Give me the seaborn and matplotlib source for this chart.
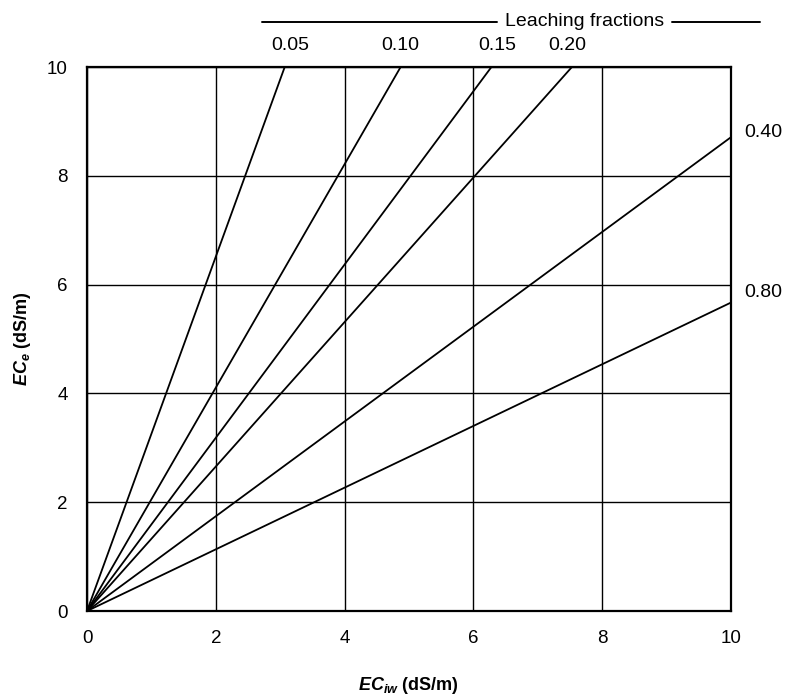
import matplotlib
matplotlib.use("Agg")
import matplotlib.pyplot as plt
import seaborn as sns
import pandas as pd
from matplotlib.lines import Line2D

# Data: each line runs from the origin to its end point
fractions = ["0.05", "0.10", "0.15", "0.20", "0.40", "0.80"]
end_x = [3.07, 4.87, 6.28, 7.53, 10.0, 10.0]
end_y = [10.0, 10.0, 10.0, 10.0, 8.71, 5.67]
ticks = [0, 2, 4, 6, 8, 10]

rows = []
for f, ex, ey in zip(fractions, end_x, end_y):
    rows.append({"LF": f, "ECiw": 0.0, "ECe": 0.0})
    rows.append({"LF": f, "ECiw": ex, "ECe": ey})
df = pd.DataFrame(rows)

sns.set_theme(style="white")
plt.rcParams["font.family"] = ["Liberation Sans", "DejaVu Sans"]
plt.rcParams["text.color"] = "black"
plt.rcParams["axes.labelcolor"] = "black"
plt.rcParams["xtick.color"] = "black"
plt.rcParams["ytick.color"] = "black"
plt.rcParams["mathtext.fontset"] = "custom"
plt.rcParams["mathtext.rm"] = "Liberation Sans"
plt.rcParams["mathtext.it"] = "Liberation Sans:italic"
plt.rcParams["mathtext.bf"] = "Liberation Sans:bold"
plt.rcParams["mathtext.bfit"] = "Liberation Sans:bold:italic"

fig = plt.figure(figsize=(7.94, 6.96), dpi=100)
ax = fig.add_axes([0.1096, 0.1221, 0.811, 0.7816])

sns.lineplot(data=df, x="ECiw", y="ECe", hue="LF", palette=["black"] * len(fractions),
             legend=False, ax=ax, linewidth=1.3, sort=False)

ax.set_xlim(0, 10)
ax.set_ylim(0, 10)
ax.set_xticks(ticks)
ax.set_yticks(ticks)
ax.set_xticklabels([str(t) for t in ticks], fontsize=13.5)
ax.set_yticklabels([str(t) for t in ticks], fontsize=13.5)
ax.grid(True, color="black", linewidth=1.0)
for s in ax.spines.values():
    s.set_color("black")
    s.set_linewidth(1.6)
ax.tick_params(axis="both", direction="out", length=6, width=1.2, color="black", pad=8)

ax.set_xlabel(r"$\mathbfit{EC}_{\mathbfit{iw}}$ (dS/m)", fontsize=13, fontweight="bold", labelpad=20)
ax.set_ylabel(r"$\mathbfit{EC}_{\mathbfit{e}}$ (dS/m)", fontsize=13, fontweight="bold", labelpad=10)

# Line labels
top_label_x = [3.15, 4.86, 6.37, 7.45]
for f, lx in zip(fractions[:4], top_label_x):
    ax.text(lx, 10.40, f, ha="center", va="center", fontsize=14, clip_on=False)
ax.text(10.2, 8.79, fractions[4], ha="left", va="center", fontsize=14, clip_on=False)
ax.text(10.2, 5.85, fractions[5], ha="left", va="center", fontsize=14, clip_on=False)

# Header "Leaching fractions" with rules
ax.add_line(Line2D([2.72, 6.37], [10.83, 10.83], color="black", linewidth=1.4, clip_on=False))
ax.text(6.49, 10.83, "Leaching fractions", ha="left", va="center", fontsize=14, clip_on=False)
ax.add_line(Line2D([9.08, 10.45], [10.83, 10.83], color="black", linewidth=1.4, clip_on=False))

fig.savefig("out.png", dpi=100)
